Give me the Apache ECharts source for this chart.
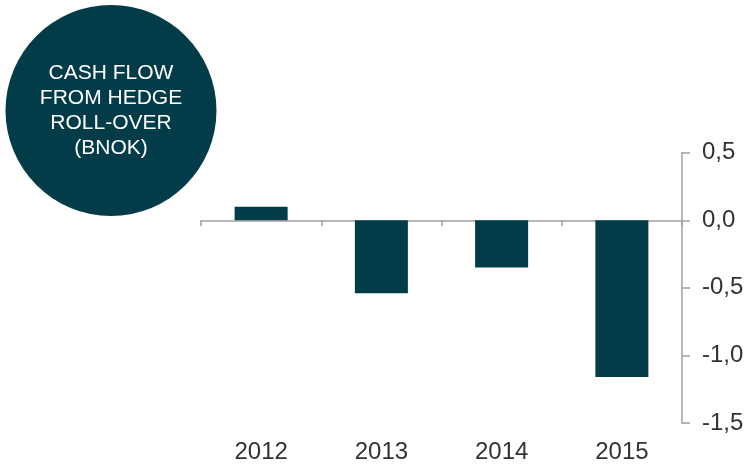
<!DOCTYPE html>
<html>
<head>
<meta charset="utf-8">
<script src="https://cdn.jsdelivr.net/npm/echarts@6/dist/echarts.min.js"></script>
<style>html,body{margin:0;padding:0;background:#fff;}#c{width:748px;height:464px;}</style>
</head>
<body>
<div id="c"></div>
<script>
var categories = ['2012', '2013', '2014', '2015'];
var values = [0.10, -0.54, -0.35, -1.16];
var titleLines = ['CASH FLOW', 'FROM HEDGE', 'ROLL-OVER', '(BNOK)'];
var yTicks = { min: -1.5, max: 0.5, interval: 0.5 };

var FONT = '"Liberation Sans", Arial, sans-serif';
var DARK = '#033c49';
var GRAY = '#a0a0a0';
var chart = echarts.init(document.getElementById('c'), null, { renderer: 'canvas' });
chart.setOption({
  animation: false,
  backgroundColor: '#fff',
  grid: { left: 201, right: 66, top: 152.7, bottom: 40.5 },
  graphic: [
    { type: 'circle', shape: { cx: 111, cy: 110.5, r: 105.5 }, style: { fill: DARK }, z: 10 },
    { type: 'text', x: 111, y: 110.5, z: 11,
      style: { text: titleLines.join('\n'), fill: '#ffffff', font: '21px ' + FONT,
               align: 'center', verticalAlign: 'middle', lineHeight: 25 } }
  ],
  xAxis: [
    { type: 'category', data: categories, position: 'bottom', boundaryGap: true,
      axisLine: { onZero: true, lineStyle: { color: GRAY, width: 1.5 } },
      axisTick: { show: true, length: 6, lineStyle: { color: GRAY, width: 1.5 } },
      axisLabel: { show: false }, splitLine: { show: false } },
    { type: 'category', data: categories, position: 'bottom', boundaryGap: true,
      axisLine: { show: false, onZero: false }, axisTick: { show: false },
      axisLabel: { show: true, margin: 17, color: '#333333', fontSize: 24, fontFamily: FONT },
      splitLine: { show: false } }
  ],
  yAxis: {
    type: 'value', position: 'right', min: yTicks.min, max: yTicks.max, interval: yTicks.interval,
    axisLine: { show: true, lineStyle: { color: GRAY, width: 1.5 } },
    axisTick: { show: true, inside: false, length: 8, lineStyle: { color: GRAY, width: 1.5 } },
    splitLine: { show: false },
    axisLabel: { margin: 20, color: '#333333', fontSize: 24, fontFamily: FONT,
      formatter: function (v) { return v.toFixed(1).replace('.', ','); } }
  },
  series: [{
    type: 'bar', xAxisIndex: 0, data: values, barWidth: 53,
    itemStyle: { color: DARK }
  }]
});
</script>
</body>
</html>
